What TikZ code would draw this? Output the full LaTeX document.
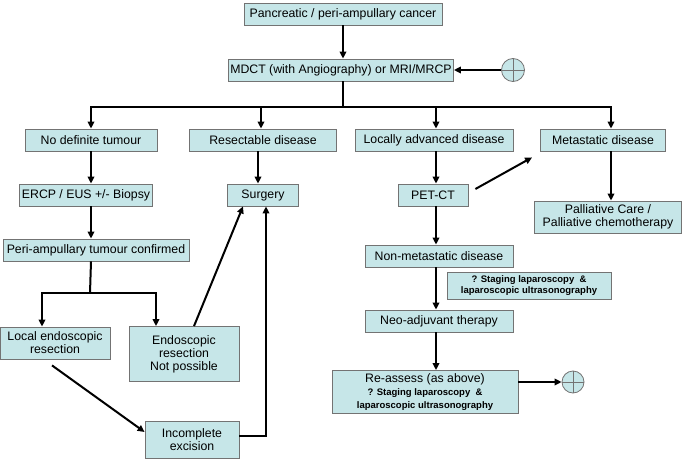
\documentclass[tikz,border=0pt]{standalone}
\usepackage{fontspec}
\setmainfont{Liberation Sans}
\usepackage{tikz}
\usetikzlibrary{positioning}
\usetikzlibrary{calc}
\usetikzlibrary{arrows.meta}
\definecolor{boxfill}{RGB}{198,230,232}
\colorlet{boxline}{black!55}
\tikzset{>={Triangle[length=7pt,width=6.5pt]}}
\newcommand{\stagefont}{\bfseries\fontsize{9.5}{11}\selectfont}

\begin{document}
\begin{tikzpicture}[x=1pt,y=-1pt,
    box/.style={draw=boxline, fill=boxfill, line width=0.8pt, align=center,
      inner sep=1pt, font=\fontsize{12.3}{13}\selectfont},
    small/.style={font=\stagefont},
    link/.style={line width=2pt},
    plus/.style={circle, draw=boxline, fill=boxfill, line width=0.8pt,
      minimum size=23pt, inner sep=0pt,
      path picture={\draw[boxline, line width=0.8pt]
        (path picture bounding box.north) -- (path picture bounding box.south)
        (path picture bounding box.west) -- (path picture bounding box.east);}}]
  \useasboundingbox (0,0) rectangle (686,463);

  % Top of the chart
  \node[box, minimum width=198pt, minimum height=22pt] (canc) at (343,14) {Pancreatic / peri-ampullary cancer};
  \node[box, minimum width=225pt, minimum height=22pt] (mdct) at (341,70) {MDCT (with Angiography) or MRI/MRCP};
  \node[plus] (plusa) at (513,70) {};

  % Four groups
  \node[box, minimum width=132pt, minimum height=22pt] (notum) at (91,140) {No definite tumour};
  \node[box, minimum width=147pt, minimum height=22pt] (resect) at (263,140) {Resectable disease};
  \node[box, minimum width=158pt, minimum height=22pt] (locadv) at (434,140) {Locally advanced disease};
  \node[box, minimum width=125pt, minimum height=22pt] (meta) at (603,140) {Metastatic disease};

  % Left branch
  \node[box, minimum width=133pt, minimum height=22pt] (ercp) at (86,195) {ERCP / EUS +/- Biopsy};
  \node[box, minimum width=186pt, minimum height=22pt] (peri) at (96,250) {Peri-ampullary tumour confirmed};
  \node[box, minimum width=110pt, minimum height=32pt] (local) at (55,343) {Local endoscopic\\resection};
  \node[box, minimum width=110pt, minimum height=55pt] (endo) at (184,354) {Endoscopic\\resection\\Not possible};
  \node[box, minimum width=94pt, minimum height=37pt] (incomp) at (192,440) {Incomplete\\excision};
  \node[box, minimum width=71pt, minimum height=22pt] (surg) at (263,195) {Surgery};

  % Right branch
  \node[box, minimum width=70pt, minimum height=22pt] (petct) at (433,195) {PET-CT};
  \node[box, minimum width=147pt, minimum height=32pt] (pall) at (608,217) {Palliative Care /\\Palliative chemotherapy};
  \node[box, minimum width=148pt, minimum height=22pt] (nonmet) at (439,256) {Non-metastatic disease};
  \node[box, small, minimum width=164pt, minimum height=27pt] (stag) at (529,286) {? Staging laparoscopy \ \&\\laparoscopic ultrasonography};
  \node[box, minimum width=148pt, minimum height=22pt] (neo) at (439,321) {Neo-adjuvant therapy};
  \node[box, minimum width=186pt, minimum height=43pt] (reass) at (425,392)
    {Re-assess (as above)\\{\stagefont ? Staging laparoscopy \ \&}\\{\stagefont laparoscopic ultrasonography}};
  \node[plus, minimum size=22pt] (plusb) at (573,382) {};

  % Connectors
  \coordinate (split) at (343,107);
  \coordinate (splitb) at (90,293);
  \draw[link,->] (canc.south) -- (canc.south |- mdct.north);
  \draw[link,->] (plusa.west) -- (plusa.west -| mdct.east);
  \draw[link] (canc.south |- mdct.south) -- (split);
  \draw[link,->] (split) -| (notum.north);
  \draw[link,->] (split) -| ([xshift=-2pt]resect.north);
  \draw[link,->] (split) -| ([xshift=2pt]locadv.north);
  \draw[link,->] (split) -| ([xshift=8pt]meta.north);

  \draw[link,->] (notum.south) -- (notum.south |- ercp.north);
  \draw[link,->] (notum.south |- ercp.south) -- (notum.south |- peri.north);
  \draw[link] (notum.south |- peri.south) -- (splitb);
  \draw[link,->] (splitb) -| ([xshift=-13pt]local.north);
  \draw[link,->] (splitb) -| ([xshift=-28pt]endo.north);
  \draw[link,->] ([xshift=-5pt]resect.south) -- ([xshift=-5pt]resect.south |- surg.north);
  \draw[link,->] ([xshift=10pt]endo.north) -- ([xshift=-20pt]surg.south);
  \draw[link,->] ([shift={(-3pt,-6pt)}]local.south) -- ([yshift=8pt]incomp.west);
  \draw[link,->] ([yshift=4pt]incomp.east) -| ([xshift=3pt]surg.south);

  \draw[link,->] ([xshift=2pt]locadv.south) -- ([xshift=2pt]locadv.south |- petct.north);
  \draw[link,->] ([shift={(7pt,6pt)}]petct.east) -- ([shift={(-8pt,-6pt)}]meta.south west);
  \draw[link,->] ([xshift=8pt]meta.south) -- ([xshift=8pt]meta.south |- pall.north);
  \draw[link,->] ([xshift=3pt]petct.south) -- ([xshift=3pt]petct.south |- nonmet.north);
  \draw[link,->] ([xshift=-3pt]nonmet.south) -- ([xshift=-3pt]nonmet.south |- neo.north);
  \draw[link,->] ([xshift=-3pt]neo.south) -- ([xshift=-3pt]neo.south |- reass.north);
  \draw[link,->] ([yshift=10pt]reass.east) -- ([yshift=10pt]reass.east -| plusb.west);

\end{tikzpicture}
\end{document}
